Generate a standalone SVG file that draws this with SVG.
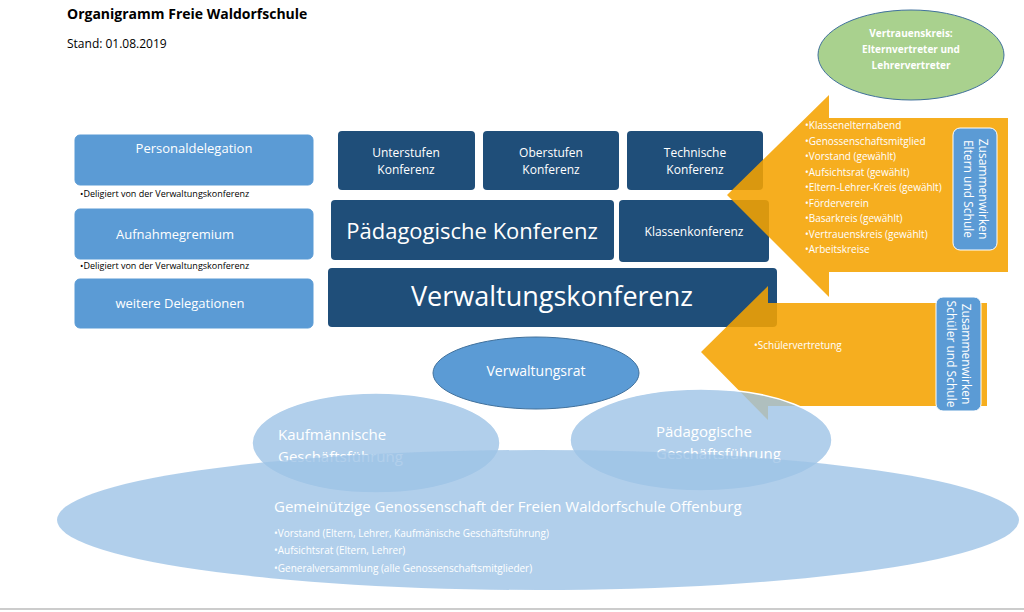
<svg xmlns="http://www.w3.org/2000/svg" width="1024" height="612" viewBox="0 0 1024 612">
<style>
text{font-family:"Open Sans","Liberation Sans",sans-serif;fill:#fff}
.lb{fill:#5b9bd5;stroke:#5b9bd5}
.db{fill:#1f4e79}
.arr{fill:#f5a300;fill-opacity:0.88}
.le{fill:#9dc3e6;fill-opacity:0.8;stroke:#fff;stroke-width:1.5}
.s{font-size:10px}
</style>
<rect width="1024" height="612" fill="#fff"/>
<text x="67" y="19" font-size="14" font-weight="bold" style="fill:#000" font-family="Liberation Sans,sans-serif">Organigramm Freie Waldorfschule</text>
<text x="67" y="48" font-size="12" style="fill:#000">Stand: 01.08.2019</text>
<g id="green"><ellipse cx="911" cy="55" rx="93" ry="45" fill="#a9d18e" stroke="#41719c"/>
<text x="911" y="37" font-size="10" font-weight="bold" text-anchor="middle">Vertrauenskreis:</text>
<text x="911" y="53" font-size="10" font-weight="bold" text-anchor="middle">Elternvertreter und</text>
<text x="911" y="69" font-size="10" font-weight="bold" text-anchor="middle">Lehrervertreter</text></g>
<g id="left">
<rect class="lb" x="75" y="135" width="238" height="50" rx="5"/><text x="194" y="153" font-size="13" text-anchor="middle">Personaldelegation</text>
<text x="80" y="197" font-size="9" style="fill:#000">•Deligiert von der Verwaltungskonferenz</text>
<rect class="lb" x="75" y="209" width="238" height="50" rx="5"/><text x="175" y="239" font-size="13" text-anchor="middle">Aufnahmegremium</text>
<text x="80" y="269" font-size="9" style="fill:#000">•Deligiert von der Verwaltungskonferenz</text>
<rect class="lb" x="75" y="279" width="238" height="49" rx="5"/><text x="180" y="308" font-size="13" text-anchor="middle">weitere Delegationen</text>
</g>
<g id="dark">
<rect class="db" x="338" y="131" width="137" height="59" rx="4"/><text x="406" y="157" font-size="12" text-anchor="middle">Unterstufen</text><text x="406" y="174" font-size="12" text-anchor="middle">Konferenz</text>
<rect class="db" x="483" y="131" width="136" height="59" rx="4"/><text x="551" y="157" font-size="12" text-anchor="middle">Oberstufen</text><text x="551" y="174" font-size="12" text-anchor="middle">Konferenz</text>
<rect class="db" x="627" y="131" width="136" height="59" rx="4"/><text x="695" y="157" font-size="12" text-anchor="middle">Technische</text><text x="695" y="174" font-size="12" text-anchor="middle">Konferenz</text>
<rect class="db" x="331" y="200" width="283" height="60" rx="4"/><text x="472" y="239" font-size="22" text-anchor="middle">Pädagogische Konferenz</text>
<rect class="db" x="619" y="200" width="150" height="62" rx="4"/><text x="694" y="236" font-size="12" text-anchor="middle">Klassenkonferenz</text>
<rect class="db" x="328" y="268" width="449" height="59" rx="4"/><text x="552" y="306" font-size="27" text-anchor="middle">Verwaltungskonferenz</text>
</g>
<g id="arrows">
<polygon class="arr" points="727,195 829,95 829,118 1008,118 1008,272 829,272 829,297"/>
<polygon class="arr" points="701,352 768,286 768,303 987,303 987,406 768,406 768,420"/>
</g>
<g id="arrowtext">
<text class="s" x="805" y="129">•Klassenelternabend</text>
<text class="s" x="805" y="145">•Genossenschaftsmitglied</text>
<text class="s" x="805" y="160">•Vorstand (gewählt)</text>
<text class="s" x="805" y="176">•Aufsichtsrat (gewählt)</text>
<text class="s" x="805" y="191">•Eltern-Lehrer-Kreis (gewählt)</text>
<text class="s" x="805" y="207">•Förderverein</text>
<text class="s" x="805" y="222">•Basarkreis (gewählt)</text>
<text class="s" x="805" y="238">•Vertrauenskreis (gewählt)</text>
<text class="s" x="805" y="253">•Arbeitskreise</text>
<text class="s" x="754" y="349">•Schülervertretung</text>
</g>
<g id="zus1"><rect x="953" y="128" width="44" height="122" rx="7" fill="#5b9bd5" stroke="#fff"/>
<text transform="translate(979,189) rotate(90)" font-size="12" text-anchor="middle">Zusammenwirken</text>
<text transform="translate(964,189) rotate(90)" font-size="12" text-anchor="middle">Eltern und Schule</text></g>
<g id="zus2"><rect x="936" y="297" width="45" height="114" rx="7" fill="#5b9bd5" stroke="#fff"/>
<text transform="translate(962,354) rotate(90)" font-size="12" text-anchor="middle">Zusammenwirken</text>
<text transform="translate(947,354) rotate(90)" font-size="12" text-anchor="middle">Schüler und Schule</text></g>
<g id="vrat"><ellipse cx="536" cy="373" rx="103" ry="36" fill="#5b9bd5" stroke="#41719c"/><text x="536" y="376" font-size="14" text-anchor="middle">Verwaltungsrat</text></g>
<g id="kauf"><ellipse class="le" cx="376" cy="443" rx="124" ry="50"/><text x="278" y="440" font-size="15">Kaufmännische</text><text x="278" y="462" font-size="15">Geschäftsführung</text></g>
<g id="paed"><ellipse class="le" cx="701" cy="440" rx="131" ry="51"/><text x="656" y="437" font-size="15">Pädagogische</text><text x="656" y="459" font-size="15">Geschäftsführung</text></g>
<g id="geno"><ellipse cx="538" cy="520" rx="481" ry="70" fill="#9dc3e6" fill-opacity="0.8"/>
<text x="274" y="512" font-size="15">Gemeinützige Genossenschaft der Freien Waldorfschule Offenburg</text>
<text x="274" y="537" font-size="10">•Vorstand (Eltern, Lehrer, Kaufmänische Geschäftsführung)</text>
<text x="274" y="554" font-size="10">•Aufsichtsrat (Eltern, Lehrer)</text>
<text x="274" y="572" font-size="10">•Generalversammlung  (alle Genossenschaftsmitglieder)</text></g>
<line x1="0" y1="609" x2="1024" y2="609" stroke="#ccc" stroke-width="2"/>
</svg>
